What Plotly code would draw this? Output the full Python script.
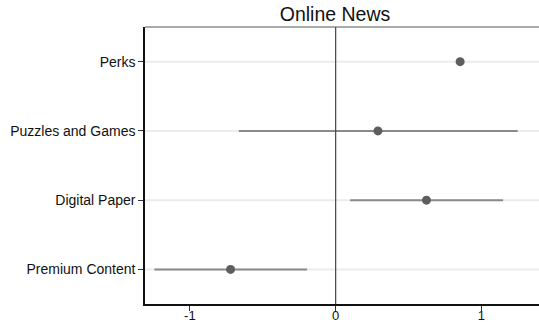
import plotly.graph_objects as go

# Coefficient estimates with confidence intervals
categories = ["Premium Content", "Digital Paper", "Puzzles and Games", "Perks"]
estimates = [-0.721, 0.623, 0.290, 0.854]
ci_low = [-1.244, 0.099, -0.664, None]
ci_high = [-0.196, 1.149, 1.249, None]
x_ticks = [-1, 0, 1]
positions = [1, 2, 3, 4]

fig = go.Figure()

# light horizontal guide per category
for p in positions:
    fig.add_shape(type="line", xref="paper", yref="y", x0=0, x1=1, y0=p, y1=p,
                  line=dict(color="#ececec", width=2), layer="below")

# reference line at zero
fig.add_shape(type="line", xref="x", yref="paper", x0=0, x1=0, y0=0, y1=1,
              line=dict(color="#444444", width=1.2))

# confidence interval segments
for p, lo, hi in zip(positions, ci_low, ci_high):
    if lo is None:
        continue
    fig.add_trace(go.Scatter(x=[lo, hi], y=[p, p], mode="lines",
                             line=dict(color="#8a8a8a", width=2),
                             showlegend=False, hoverinfo="skip"))

fig.add_trace(go.Scatter(x=estimates, y=positions, mode="markers",
                         marker=dict(color="#5e5e5e", size=9),
                         showlegend=False))

# top frame line
fig.add_shape(type="line", xref="paper", yref="paper", x0=0, x1=1, y0=1, y1=1,
              line=dict(color="#555555", width=1))

fig.update_layout(
    width=539, height=322,
    margin=dict(l=145, r=0, t=27, b=18),
    plot_bgcolor="white", paper_bgcolor="white",
    font=dict(family="Liberation Sans, Arial, sans-serif", color="#111111"),
    title=dict(text="Online News", x=335 / 539, xanchor="center", xref="container",
               y=1 - 14 / 322, yanchor="middle", yref="container",
               font=dict(size=19.5, color="#111111")),
    xaxis=dict(range=[-1.308, 1.395], tickvals=x_ticks,
               ticktext=[str(v) for v in x_ticks], automargin=False,
               showgrid=False, zeroline=False, showline=True,
               linecolor="#111111", linewidth=1.5,
               ticks="outside", ticklen=5, tickcolor="#333333",
               ticklabelstandoff=-6,
               tickfont=dict(size=13)),
    yaxis=dict(range=[0.5, 4.5], tickvals=positions, ticktext=categories,
               automargin=False,
               showgrid=False, zeroline=False, showline=True,
               linecolor="#111111", linewidth=1.5,
               ticks="outside", ticklen=5, tickcolor="#333333",
               tickfont=dict(size=14)),
)

fig.write_html("out.html")
